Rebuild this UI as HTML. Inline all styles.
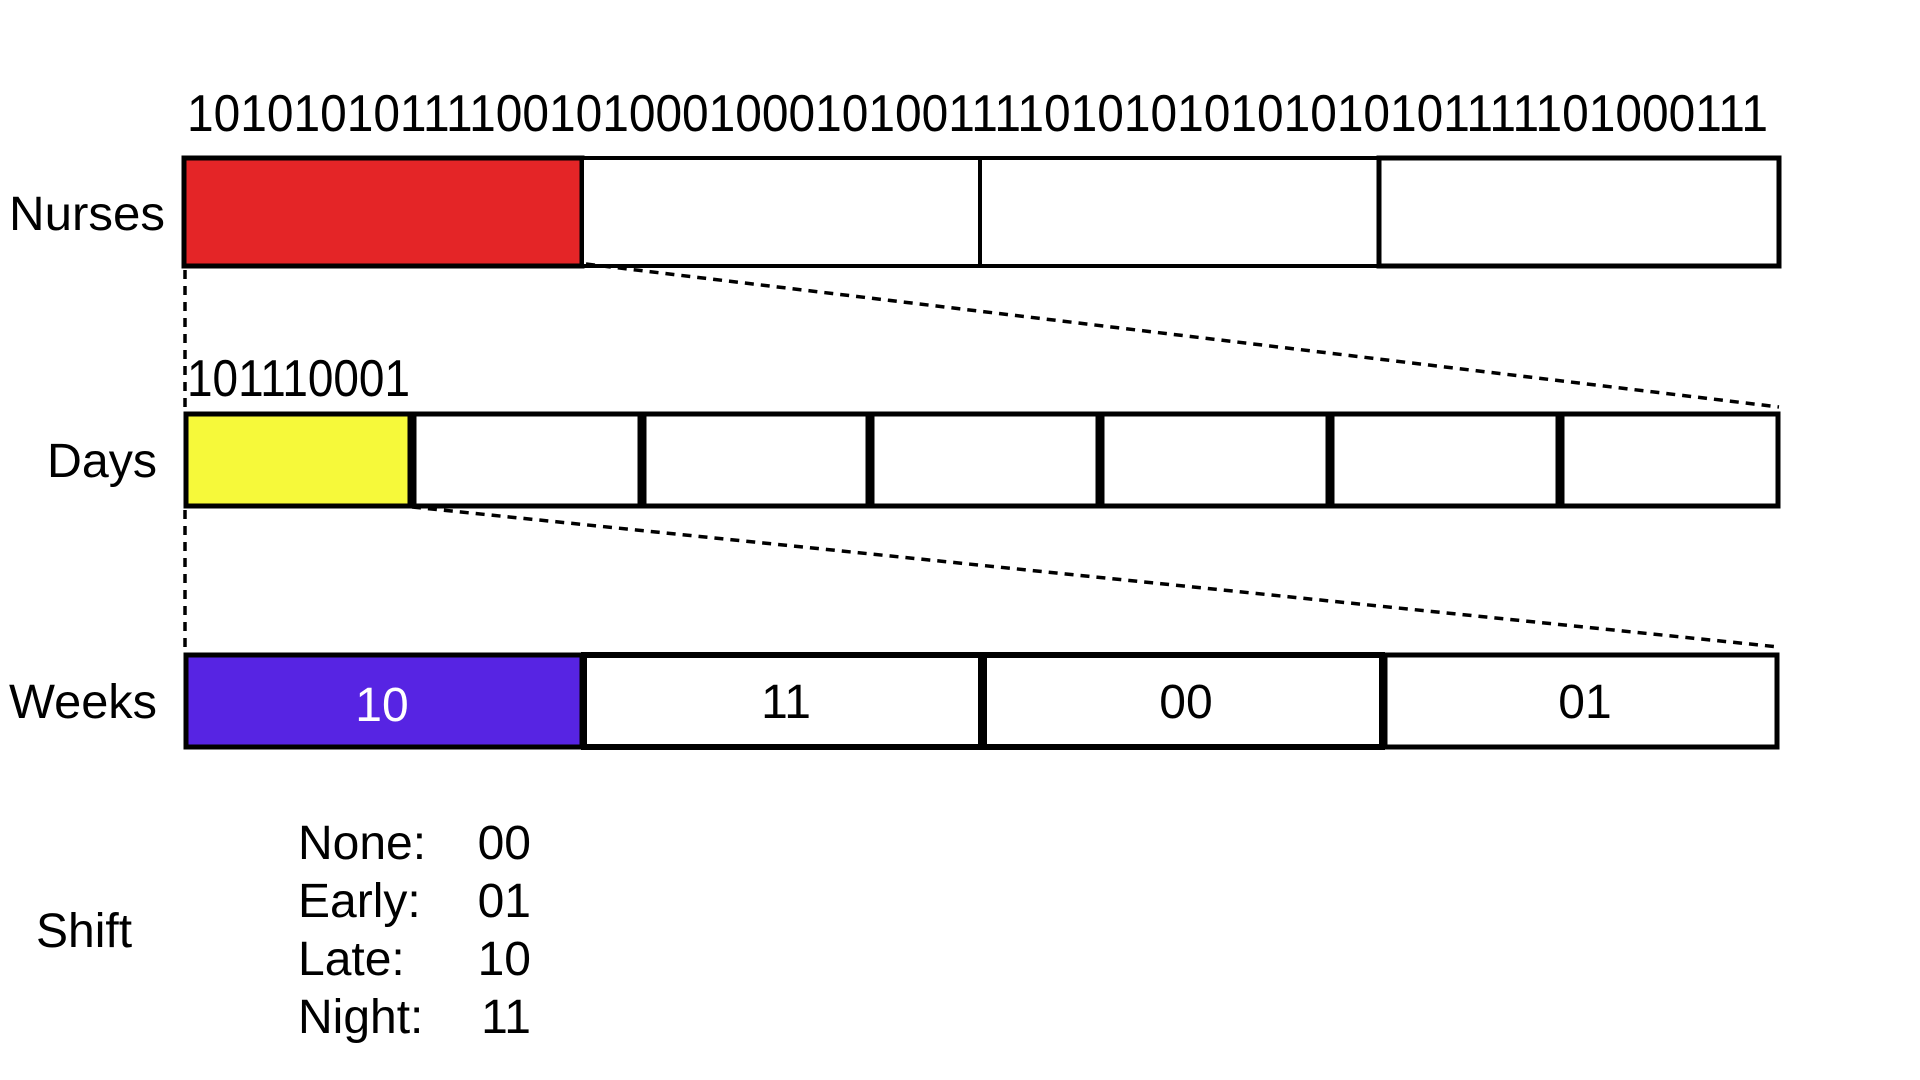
<!DOCTYPE html>
<html><head><meta charset="utf-8"><style>
html,body{margin:0;padding:0;background:#fff;}
svg{display:block;font-family:"Liberation Sans",sans-serif;}
</style></head><body>
<svg width="1920" height="1080" viewBox="0 0 1920 1080" xmlns="http://www.w3.org/2000/svg">
<text x="187" y="131" font-size="52" textLength="1581" lengthAdjust="spacingAndGlyphs">1010101011110010100010001010011110101010101010101111101000111</text>
<text x="9" y="230" font-size="48" textLength="156" lengthAdjust="spacingAndGlyphs">Nurses</text>
<g>
<rect x="184" y="158" width="398" height="108" fill="#e42527" stroke="#000" stroke-width="5"/>
<rect x="582" y="158" width="398" height="108" fill="#fff" stroke="#000" stroke-width="4"/>
<rect x="980" y="158" width="399" height="108" fill="#fff" stroke="#000" stroke-width="4"/>
<rect x="1379" y="158" width="400" height="108" fill="#fff" stroke="#000" stroke-width="5"/>
</g>
<line x1="185" y1="270" x2="185" y2="410" stroke="#000" stroke-width="3.5" stroke-dasharray="9,7"/>
<line x1="586" y1="264" x2="1779" y2="407" stroke="#000" stroke-width="3.5" stroke-dasharray="9,7"/>
<text x="187" y="396" font-size="52" textLength="223" lengthAdjust="spacingAndGlyphs">101110001</text>
<text x="47" y="477" font-size="48" textLength="110" lengthAdjust="spacingAndGlyphs">Days</text>
<g>
<rect x="186" y="414" width="224" height="92" fill="#f6f93a" stroke="#000" stroke-width="5"/>
<rect x="414" y="414" width="226" height="92" fill="#fff" stroke="#000" stroke-width="5"/>
<rect x="644" y="414" width="224" height="92" fill="#fff" stroke="#000" stroke-width="5"/>
<rect x="872" y="414" width="226" height="92" fill="#fff" stroke="#000" stroke-width="5"/>
<rect x="1102" y="414" width="226" height="92" fill="#fff" stroke="#000" stroke-width="5"/>
<rect x="1332" y="414" width="226" height="92" fill="#fff" stroke="#000" stroke-width="5"/>
<rect x="1562" y="414" width="216" height="92" fill="#fff" stroke="#000" stroke-width="5"/>
</g>
<line x1="185" y1="510" x2="185" y2="650" stroke="#000" stroke-width="3.5" stroke-dasharray="9,7"/>
<line x1="412" y1="507" x2="1779" y2="647" stroke="#000" stroke-width="3.5" stroke-dasharray="9,7"/>
<text x="9" y="718" font-size="48" textLength="148" lengthAdjust="spacingAndGlyphs">Weeks</text>
<g>
<rect x="186" y="655" width="396" height="92" fill="#5724e3" stroke="#000" stroke-width="5"/>
<rect x="584" y="655" width="397" height="92" fill="#fff" stroke="#000" stroke-width="6"/>
<rect x="984" y="655" width="398" height="92" fill="#fff" stroke="#000" stroke-width="6"/>
<rect x="1385" y="655" width="392" height="92" fill="#fff" stroke="#000" stroke-width="5"/>
<text x="382" y="721" font-size="48" fill="#fff" text-anchor="middle">10</text>
<text x="786" y="718" font-size="48" text-anchor="middle">11</text>
<text x="1186" y="718" font-size="48" text-anchor="middle">00</text>
<text x="1585" y="718" font-size="48" text-anchor="middle">01</text>
</g>
<text x="36" y="947" font-size="48">Shift</text>
<g font-size="48">
<text x="298" y="859">None:</text>
<text x="531" y="859" text-anchor="end">00</text>
<text x="298" y="917">Early:</text>
<text x="531" y="917" text-anchor="end">01</text>
<text x="298" y="975">Late:</text>
<text x="531" y="975" text-anchor="end">10</text>
<text x="298" y="1033">Night:</text>
<text x="531" y="1033" text-anchor="end">11</text>
</g>
</svg>
</body></html>
